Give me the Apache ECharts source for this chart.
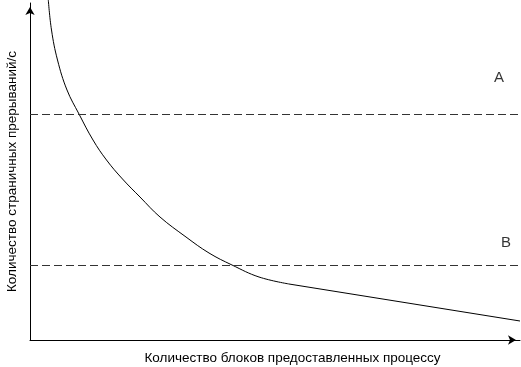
<!DOCTYPE html>
<html>
<head>
<meta charset="utf-8">
<script src="https://cdn.jsdelivr.net/npm/echarts@6/dist/echarts.min.js"></script>
<style>
html,body{margin:0;padding:0;background:#fff;}
#chart{width:521px;height:367px;}
</style>
</head>
<body>
<div id="chart"></div>
<script>
// Curve (arbitrary units): x = blocks, y = page faults/s
const curveX = [18.3, 21.5, 27.5, 37, 49, 63, 76.5, 92.5, 110, 130, 156, 179, 202, 229, 259];
const curveY = [340, 310, 280, 250, 226, 200, 180, 161, 143, 123, 103, 87, 75, 63, 56];
const tailX = [259, 490];
const tailY = [56, 19];
const levelA = 226;
const levelB = 75;
const levelLabels = ['A', 'B'];
const labelX = [469, 476];
const labelY = [262, 97];
const xMax = 490;
const yMax = 337;
const xName = 'Количество блоков предоставленных процессу';
const yName = 'Количество страничных прерываний/с';

const font = "'Liberation Sans', Arial, sans-serif";
const chart = echarts.init(document.getElementById('chart'), null, {renderer: 'canvas'});
chart.setOption({
  animation: false,
  backgroundColor: '#fff',
  grid: {left: 30, right: 1, top: 3, bottom: 27, containLabel: false, outerBoundsMode: 'none'},
  xAxis: {
    type: 'value', min: 0, max: xMax,
    name: xName, nameLocation: 'middle', nameGap: 11,
    nameTextStyle: {fontFamily: font, fontSize: 13.5, color: '#000', padding: [0, 0, 0, 35]},
    axisLine: {show: true, lineStyle: {color: '#000', width: 1}, symbol: ['none', 'arrow'], symbolSize: [7, 8], symbolOffset: [0, -4]},
    axisTick: {show: false}, axisLabel: {show: false}, splitLine: {show: false}
  },
  yAxis: {
    type: 'value', min: 0, max: yMax,
    name: yName, nameLocation: 'middle', nameGap: 11,
    nameTextStyle: {fontFamily: font, fontSize: 13.5, color: '#000'},
    axisLine: {show: true, lineStyle: {color: '#000', width: 1}, symbol: ['none', 'arrow'], symbolSize: [7, 8], symbolOffset: [0, -4]},
    axisTick: {show: false}, axisLabel: {show: false}, splitLine: {show: false}
  },
  series: [
    {
      type: 'line', smooth: 0.4, showSymbol: false, clip: false, silent: true,
      data: curveX.map((x, i) => [x, curveY[i]]),
      lineStyle: {color: '#000', width: 1},
      markLine: {
        silent: true, symbol: ['none', 'none'], label: {show: false},
        lineStyle: {color: '#333', width: 1, type: [8, 4]},
        data: [{yAxis: levelA}, {yAxis: levelB}]
      }
    },
    {
      type: 'line', showSymbol: false, silent: true,
      data: tailX.map((x, i) => [x, tailY[i]]),
      lineStyle: {color: '#000', width: 1}
    },
    {
      type: 'scatter', symbolSize: 0, silent: true,
      data: levelLabels.map((n, i) => ({name: n, value: [labelX[i], labelY[i]]})),
      label: {show: true, position: 'inside', formatter: '{b}', fontFamily: font, fontSize: 15, color: '#000'}
    }
  ]
});
</script>
</body>
</html>
